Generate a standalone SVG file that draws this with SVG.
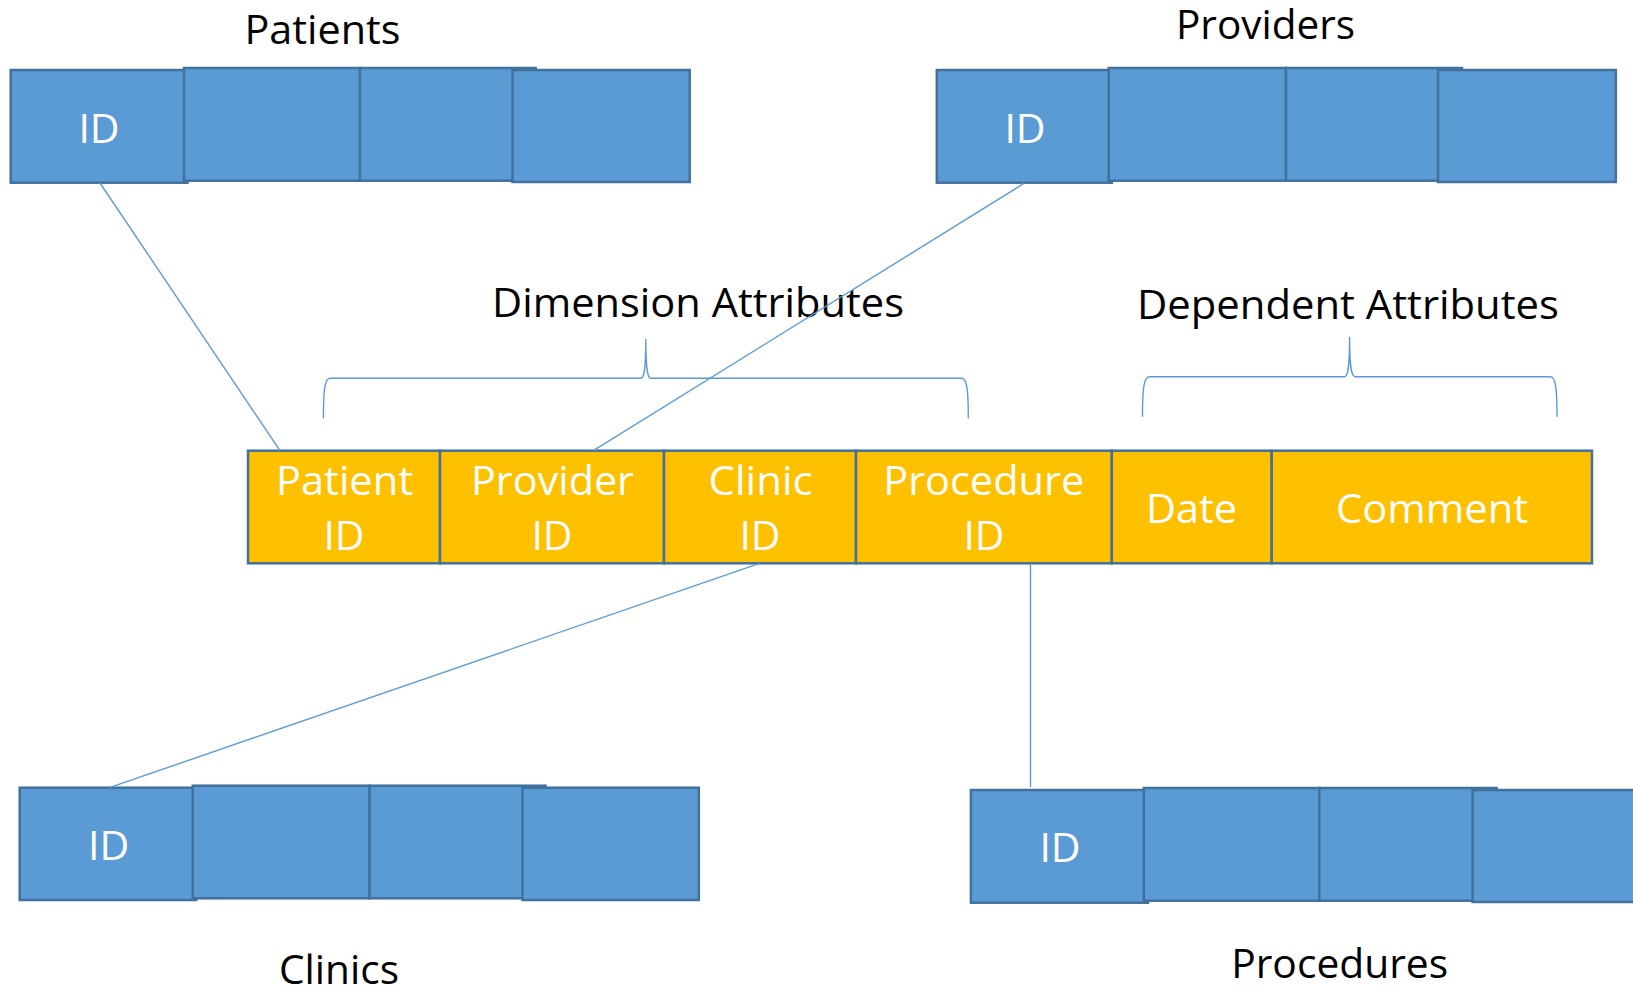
<svg xmlns="http://www.w3.org/2000/svg" width="1633" height="991" viewBox="0 0 1633 991">
  <style>
    .cell { fill: #5B9BD5; stroke: #41719C; stroke-width: 2.5; }
    .fact { fill: #FFC000; stroke: #41719C; stroke-width: 2.5; }
    .title { font-family: "Open Sans", "Noto Sans", sans-serif; font-size: 41px; fill: #000000; text-anchor: middle; }
    .label { font-family: "Open Sans", "Noto Sans", sans-serif; font-size: 41px; fill: #FFFFFF; text-anchor: middle; }
    .link { fill: none; stroke: #5B9BD5; stroke-width: 1.4; }
    .brace { fill: none; stroke: #5B9BD5; stroke-width: 1.4; }
  </style>

  <rect width="1633" height="991" fill="#FFFFFF"/>

  <!-- Patients dimension table -->
  <g id="patients">
    <text class="title" x="322.5" y="44" textLength="156" lengthAdjust="spacingAndGlyphs">Patients</text>
    <rect class="cell" x="10.7" y="70" width="176.8" height="112.7"/>
    <rect class="cell" x="184" y="68" width="176" height="112.7"/>
    <rect class="cell" x="360" y="68" width="175.7" height="112.7"/>
    <rect class="cell" x="512.5" y="70" width="177.2" height="112"/>
    <text class="label" x="99" y="143">ID</text>
  </g>

  <!-- Providers dimension table -->
  <g id="providers">
    <text class="title" x="1265.5" y="39.3" textLength="179" lengthAdjust="spacingAndGlyphs">Providers</text>
    <rect class="cell" x="936.8" y="70" width="175" height="112.7"/>
    <rect class="cell" x="1108.7" y="68" width="177.3" height="112.7"/>
    <rect class="cell" x="1286" y="68" width="176" height="112.7"/>
    <rect class="cell" x="1438" y="70" width="177.8" height="112"/>
    <text class="label" x="1025" y="143.3">ID</text>
  </g>

  <!-- Clinics dimension table -->
  <g id="clinics">
    <rect class="cell" x="19.7" y="787.7" width="176.5" height="112.3"/>
    <rect class="cell" x="192.8" y="785.7" width="176.8" height="112.6"/>
    <rect class="cell" x="369.6" y="785.7" width="175.9" height="112.6"/>
    <rect class="cell" x="522.5" y="787.7" width="176.3" height="112.3"/>
    <text class="label" x="108.6" y="860">ID</text>
    <text class="title" x="339" y="984" textLength="120" lengthAdjust="spacingAndGlyphs">Clinics</text>
  </g>

  <!-- Procedures dimension table -->
  <g id="procedures">
    <rect class="cell" x="970.9" y="790" width="177.1" height="112.7"/>
    <rect class="cell" x="1143.8" y="788" width="175.5" height="112.7"/>
    <rect class="cell" x="1319.3" y="788" width="177.3" height="112.7"/>
    <rect class="cell" x="1472.6" y="790" width="200" height="112"/>
    <text class="label" x="1060" y="861.7">ID</text>
    <text class="title" x="1339.7" y="978.3" textLength="217" lengthAdjust="spacingAndGlyphs">Procedures</text>
  </g>

  <!-- Fact row -->
  <g id="fact">
    <rect class="fact" x="248" y="450.7" width="192" height="112.6"/>
    <rect class="fact" x="440" y="450.7" width="224" height="112.6"/>
    <rect class="fact" x="664" y="450.7" width="192" height="112.6"/>
    <rect class="fact" x="856" y="450.7" width="255.8" height="112.6"/>
    <rect class="fact" x="1111.8" y="450.7" width="159.9" height="112.6"/>
    <rect class="fact" x="1271.7" y="450.7" width="320.3" height="112.6"/>
    <text class="label" x="344.5" y="495" textLength="137" lengthAdjust="spacingAndGlyphs">Patient</text>
    <text class="label" x="344" y="550">ID</text>
    <text class="label" x="552.5" y="495" textLength="163" lengthAdjust="spacingAndGlyphs">Provider</text>
    <text class="label" x="552" y="550">ID</text>
    <text class="label" x="760.6" y="495" textLength="104" lengthAdjust="spacingAndGlyphs">Clinic</text>
    <text class="label" x="760" y="550">ID</text>
    <text class="label" x="983.7" y="495" textLength="201" lengthAdjust="spacingAndGlyphs">Procedure</text>
    <text class="label" x="984" y="550">ID</text>
    <text class="label" x="1191.6" y="522.7" textLength="91" lengthAdjust="spacingAndGlyphs">Date</text>
    <text class="label" x="1432" y="522.7" textLength="192" lengthAdjust="spacingAndGlyphs">Comment</text>
  </g>

  <!-- Attribute group labels with braces -->
  <g id="dimension-attributes">
    <text class="title" x="698" y="316.7" textLength="412" lengthAdjust="spacingAndGlyphs">Dimension Attributes</text>
    <path class="brace" d="M 323.4 418.3 C 323.4 392 324.5 378.3 330 378.3 L 640.7 378.3 C 644 378.3 645.8 370 645.8 339 C 645.8 370 647.6 378.3 651 378.3 L 961.7 378.3 C 967.2 378.3 968.3 392 968.3 418.3"/>
  </g>
  <g id="dependent-attributes">
    <text class="title" x="1348" y="319" textLength="422" lengthAdjust="spacingAndGlyphs">Dependent Attributes</text>
    <path class="brace" d="M 1142.5 416.7 C 1142.5 390 1143.6 376.7 1149.4 376.7 L 1344.4 376.7 C 1348 376.7 1349.6 368 1349.6 336.7 C 1349.6 368 1351.4 376.7 1355.3 376.7 L 1550.5 376.7 C 1555.8 376.7 1557 390 1557 416.7"/>
  </g>

  <!-- Key links between the fact row and the dimension tables -->
  <g id="connectors">
    <line class="link" x1="100" y1="183" x2="280" y2="450.7"/>
    <line class="link" x1="1024.6" y1="183" x2="593.3" y2="450.7"/>
    <line class="link" x1="759.6" y1="563.3" x2="109.3" y2="787.7"/>
    <line class="link" x1="1030.5" y1="563.3" x2="1030.5" y2="787"/>
  </g>
</svg>
